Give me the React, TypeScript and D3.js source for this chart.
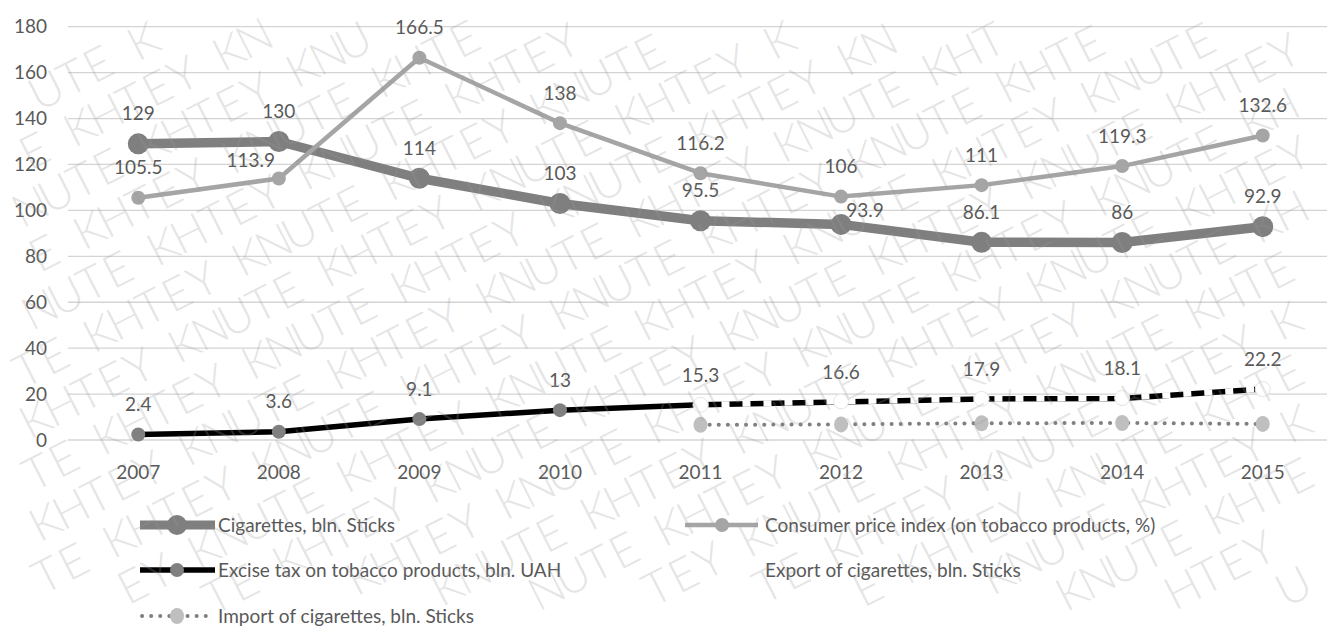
import React from "react";
import * as d3 from "d3";

const years = [2007, 2008, 2009, 2010, 2011, 2012, 2013, 2014, 2015];
const cigarettes = [129, 130, 114, 103, 95.5, 93.9, 86.1, 86, 92.9];
const cpi = [105.5, 113.9, 166.5, 138, 116.2, 106, 111, 119.3, 132.6];
const excise = [2.4, 3.6, 9.1, 13, 15.3, 16.6, 17.9, 18.1, 22.2];
const tradeYears = [2011, 2012, 2013, 2014, 2015];
const exportCig = [15.3, 16.8, 17.9, 18.3, 22.2];
const importCig = [6.6, 6.8, 7.3, 7.4, 7.0];
const yTicks = [0, 20, 40, 60, 80, 100, 120, 140, 160, 180];
const watermarkWords = ["KNUTE", "KHTEY"];

const W = 1327;
const H = 627;
const FONT = "Lato, 'Open Sans', sans-serif";
const TXT = "#595959";

function buildWatermark() {
  const out: React.ReactElement[] = [];
  const ang = (-27 * Math.PI) / 180;
  const u = [Math.cos(ang), Math.sin(ang)];
  const v = [-Math.sin(ang), Math.cos(ang)];
  const adv = 29;
  const gap = 22;
  const rowGap = 48;
  const ox = -200;
  const oy = 0;
  let n = 0;
  for (let k = -14; k < 30; k++) {
    let s = -1000 + (((k * 71) % 180) + 180) % 180;
    let w = Math.abs(k) % 2;
    while (s < 2400) {
      const word = watermarkWords[w % 2];
      for (let c = 0; c < word.length; c++) {
        const cx = ox + k * rowGap * v[0] + (s + adv / 2) * u[0];
        const cy = oy + k * rowGap * v[1] + (s + adv / 2) * u[1];
        if (cx > 27 && cx < W - 27 && cy > 34 && cy < H - 30) {
          out.push(
            <text
              key={"w" + n++}
              transform={`translate(${cx.toFixed(1)},${cy.toFixed(1)}) rotate(-27)`}
              textAnchor="middle"
              dy="0.36em"
              fontSize={46}
              fontWeight={300}
            >
              {word[c]}
            </text>
          );
        }
        s += adv;
      }
      s += gap;
      w++;
    }
  }
  return out;
}

export default function App() {
  const x = d3.scalePoint<number>().domain(years).range([68, 1333]).padding(0.5);
  const y = d3.scaleLinear().domain([0, 180]).range([440, 26.7]);
  const line = (xs: number[], vs: number[]) =>
    d3.line<number>().x((_, i) => x(xs[i])!).y((v) => y(v))(vs) || "";

  // per-label nudges (dx, dy of label center relative to point)
  const cigOff: Record<number, [number, number]> = { 5: [24, -14] };
  const cpiOff: Record<number, [number, number]> = { 1: [-28, -18] };

  const labels = (vals: number[], off: Record<number, [number, number]>, key: string) =>
    vals.map((v, i) => {
      const o = off[i] || [0, -30];
      return (
        <text
          key={key + i}
          x={x(years[i])! + o[0]}
          y={y(v) + o[1]}
          dy="0.35em"
          textAnchor="middle"
          fontSize={19}
          fill={TXT}
        >
          {String(v)}
        </text>
      );
    });

  const wm = buildWatermark();

  return (
    <svg
      width={W}
      height={H}
      style={{ position: "absolute", left: 0, top: 0, background: "#fff" }}
      fontFamily={FONT}
    >
      <rect x={0} y={0} width={W} height={H} fill="#fff" />
      {/* grid */}
      {yTicks.map((t) => (
        <g key={"g" + t}>
          <line x1={68} x2={1333} y1={y(t)} y2={y(t)} stroke="#d4d4d4" strokeWidth={1.3} />
          <text x={47} y={y(t)} dy="0.35em" textAnchor="end" fontSize={19} fill={TXT}>
            {t}
          </text>
        </g>
      ))}
      {years.map((yr) => (
        <text key={"x" + yr} x={x(yr)!} y={472} dy="0.35em" textAnchor="middle" fontSize={19} fill={TXT}>
          {yr}
        </text>
      ))}

      {/* Cigarettes */}
      <path d={line(years, cigarettes)} fill="none" stroke="#7f7f7f" strokeWidth={9.5} strokeLinejoin="round" />
      {cigarettes.map((v, i) => (
        <circle key={"c" + i} cx={x(years[i])!} cy={y(v)} r={10.5} fill="#7f7f7f" />
      ))}
      {/* CPI */}
      <path d={line(years, cpi)} fill="none" stroke="#a5a5a5" strokeWidth={4.5} strokeLinejoin="round" />
      {cpi.map((v, i) => (
        <circle key={"p" + i} cx={x(years[i])!} cy={y(v)} r={7} fill="#a5a5a5" />
      ))}
      {/* Excise */}
      <path d={line(years, excise)} fill="none" stroke="#000" strokeWidth={5.5} strokeLinejoin="round" />
      {excise.map((v, i) => (
        <circle key={"e" + i} cx={x(years[i])!} cy={y(v)} r={7} fill="#808080" />
      ))}
      {/* Export */}
      <path d={line(tradeYears, exportCig)} fill="none" stroke="#fff" strokeWidth={6} strokeDasharray="8 13" />
      {exportCig.map((v, i) => (
        <circle key={"x" + i} cx={x(tradeYears[i])!} cy={y(v)} r={7.5} fill="#fff" stroke="#e6e6e6" strokeWidth={1} />
      ))}
      {/* Import */}
      <path d={line(tradeYears, importCig)} fill="none" stroke="#808080" strokeWidth={4} strokeDasharray="0.1 9" strokeLinecap="round" />
      {importCig.map((v, i) => (
        <ellipse key={"m" + i} cx={x(tradeYears[i])!} cy={y(v)} rx={7} ry={8} fill="#bfbfbf" />
      ))}

      {labels(cigarettes, cigOff, "lc")}
      {labels(cpi, cpiOff, "lp")}
      {labels(excise, {}, "le")}

      {/* Legend */}
      <g fontSize={19} fill={TXT}>
        <line x1={140} x2={215} y1={525} y2={525} stroke="#7f7f7f" strokeWidth={9} />
        <circle cx={177} cy={525} r={10} fill="#7f7f7f" />
        <text x={218} y={525} dy="0.35em">Cigarettes, bln. Sticks</text>

        <line x1={685} x2={758} y1={525} y2={525} stroke="#a5a5a5" strokeWidth={4.5} />
        <circle cx={722} cy={525} r={7} fill="#a5a5a5" />
        <text x={765} y={525} dy="0.35em">Consumer price index (on tobacco products, %)</text>

        <line x1={140} x2={215} y1={570} y2={570} stroke="#000" strokeWidth={5.5} />
        <circle cx={177} cy={570} r={7} fill="#808080" />
        <text x={218} y={570} dy="0.35em">Excise tax on tobacco products, bln. UAH</text>

        <line x1={685} x2={758} y1={570} y2={570} stroke="#fff" strokeWidth={6} strokeDasharray="8 13" />
        <text x={765} y={570} dy="0.35em">Export of cigarettes, bln. Sticks</text>

        <line x1={142} x2={214} y1={616} y2={616} stroke="#808080" strokeWidth={4} strokeDasharray="0.1 9" strokeLinecap="round" />
        <ellipse cx={177} cy={616} rx={7} ry={8} fill="#bfbfbf" />
        <text x={218} y={616} dy="0.35em">Import of cigarettes, bln. Sticks</text>
      </g>

      {/* watermark */}
      <g fill="#9a9a9a" fillOpacity={0.26} pointerEvents="none">
        {wm}
      </g>
    </svg>
  );
}
